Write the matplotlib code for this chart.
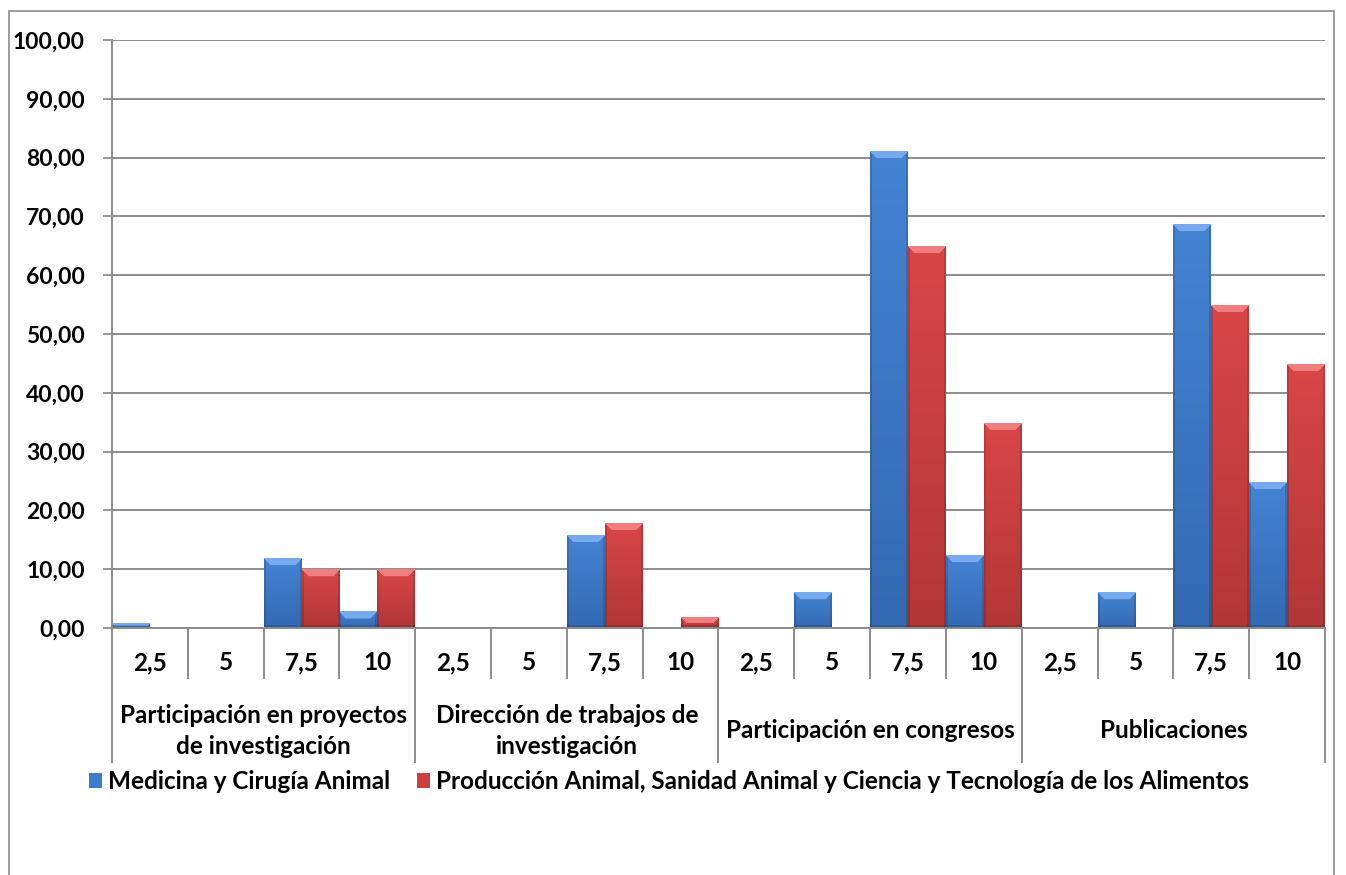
import numpy as np
import matplotlib.pyplot as plt
from matplotlib.patches import Rectangle
from matplotlib.ticker import FuncFormatter
from matplotlib.colors import to_rgb

# Data
groups = ['Participación en proyectos\nde investigación',
          'Dirección de trabajos de\ninvestigación',
          'Participación en congresos',
          'Publicaciones']
scores = ['2,5', '5', '7,5', '10']
series_names = ['Medicina y Cirugía Animal',
                'Producción Animal, Sanidad Animal y Ciencia y Tecnología de los Alimentos']
medicina = [0.8, 0, 11.8, 2.8,
            0, 0, 15.8, 0,
            0, 6.0, 81.1, 12.3,
            0, 6.0, 68.6, 24.8]
produccion = [0, 0, 9.9, 9.9,
              0, 0, 17.8, 1.8,
              0, 0, 64.9, 34.8,
              0, 0, 54.9, 44.8]

plt.rcParams['font.family'] = ['Lato', 'DejaVu Sans']
plt.rcParams['font.weight'] = 'bold'
fs = 17.5
fs_y = 16.5

W, H = 13.46, 8.75
fig = plt.figure(figsize=(W, H), dpi=100)
ax_pos = [0.0832, 0.2823, 0.9012, 0.672]
ax = fig.add_axes(ax_pos)

n = len(groups) * len(scores)
x = np.arange(n)
ymax = 100
px_x = ax_pos[2] * W * 100 / n      # pixels per category
px_y = ax_pos[3] * H * 100 / ymax   # pixels per unit


def bevel_image(top, bottom, light, hpx, wpx, bev=7):
    """RGB image of an Excel-like bevelled bar (row 0 = top)."""
    hpx = max(int(round(hpx)), 1)
    wpx = max(int(round(wpx)), 2)
    t = np.linspace(0, 1, hpx)[:, None, None]
    img = (1 - t) * np.array(to_rgb(top)) + t * np.array(to_rgb(bottom))
    img = np.repeat(img, wpx, axis=1)
    rows, cols = np.mgrid[0:hpx, 0:wpx]
    b = min(bev, hpx // 2 + 1)
    dist_side = np.minimum(cols, wpx - 1 - cols)
    top_zone = (rows < b) & (dist_side >= rows)
    img[top_zone] = np.array(to_rgb(light))
    side = (dist_side < 2) & ~top_zone
    img[side] *= 0.86
    bot = rows >= hpx - 3
    img[bot] *= 0.88
    return img


styles = [('#4384d4', '#3469b3', '#78aaee', '#3b7bcb'),
          ('#da4646', '#b23636', '#f07e7e', '#cc3f3f')]
ax.set_autoscale_on(False)
ax.set_xlim(-0.5, n - 0.5)
ax.set_ylim(0, ymax)
for vals, off, (top, bottom, light, flat), name in zip([medicina, produccion], [-0.25, 0.25],
                                                       styles, series_names):
    ax.bar(x + off, vals, width=0.5, color=flat, label=name, zorder=2)
    for xi, v in zip(x + off, vals):
        if v <= 0:
            continue
        img = bevel_image(top, bottom, light, v * px_y, 0.5 * px_x)
        ax.imshow(img, extent=(xi - 0.25, xi + 0.25, 0, v), aspect='auto',
                  interpolation='bilinear', origin='upper', zorder=3)

ax.set_xlim(-0.5, n - 0.5)
ax.set_ylim(0, ymax)
ax.set_yticks(np.arange(0, 101, 10))
ax.yaxis.set_major_formatter(FuncFormatter(lambda v, p: f'{v:.2f}'.replace('.', ',')))
ax.tick_params(axis='y', length=6.5, width=1.3, color='#8c8c8c', pad=13, labelsize=fs_y)
for lab in ax.get_yticklabels():
    lab.set_fontweight('bold')
ax.grid(axis='y', color='#8c8c8c', linewidth=1.4, zorder=0)
ax.set_axisbelow(True)
for s in ['top', 'right']:
    ax.spines[s].set_visible(False)
for s in ['left', 'bottom']:
    ax.spines[s].set_color('#8c8c8c')
    ax.spines[s].set_linewidth(1.4)
    ax.spines[s].set_zorder(4)

# multi-level category axis
ax.set_xticks(x)
ax.set_xticklabels([])
ax.tick_params(axis='x', length=0)
trans = ax.get_xaxis_transform()
for i in range(n):
    ax.text(i, -0.0595, scores[i % len(scores)], transform=trans, ha='center', va='center',
            fontsize=fs, fontweight='bold')
for b in np.arange(-0.5, n, 1.0):
    is_group = (b + 0.5) % len(scores) == 0
    y_end = -0.228 if is_group else -0.085
    ax.plot([b, b], [0, y_end], transform=trans, color='#8c8c8c', linewidth=1.4, clip_on=False)
for g, name in enumerate(groups):
    cx = g * len(scores) + (len(scores) - 1) / 2
    ax.text(cx, -0.175, name, transform=trans, ha='center', va='center', fontsize=fs,
            fontweight='bold', linespacing=1.4)

fig.legend(loc='center', bbox_to_anchor=(0.497, 0.107), ncol=2, frameon=False,
           prop={'size': fs, 'weight': 'bold'},
           handlelength=0.55, handleheight=0.55, handletextpad=0.25, columnspacing=1.1)

fig.patches.append(Rectangle((0.0067, -0.02), 0.9843, 1.0074, transform=fig.transFigure,
                             fill=False, edgecolor='#8c8c8c', linewidth=1.2))

fig.savefig('out.png', dpi=100)
